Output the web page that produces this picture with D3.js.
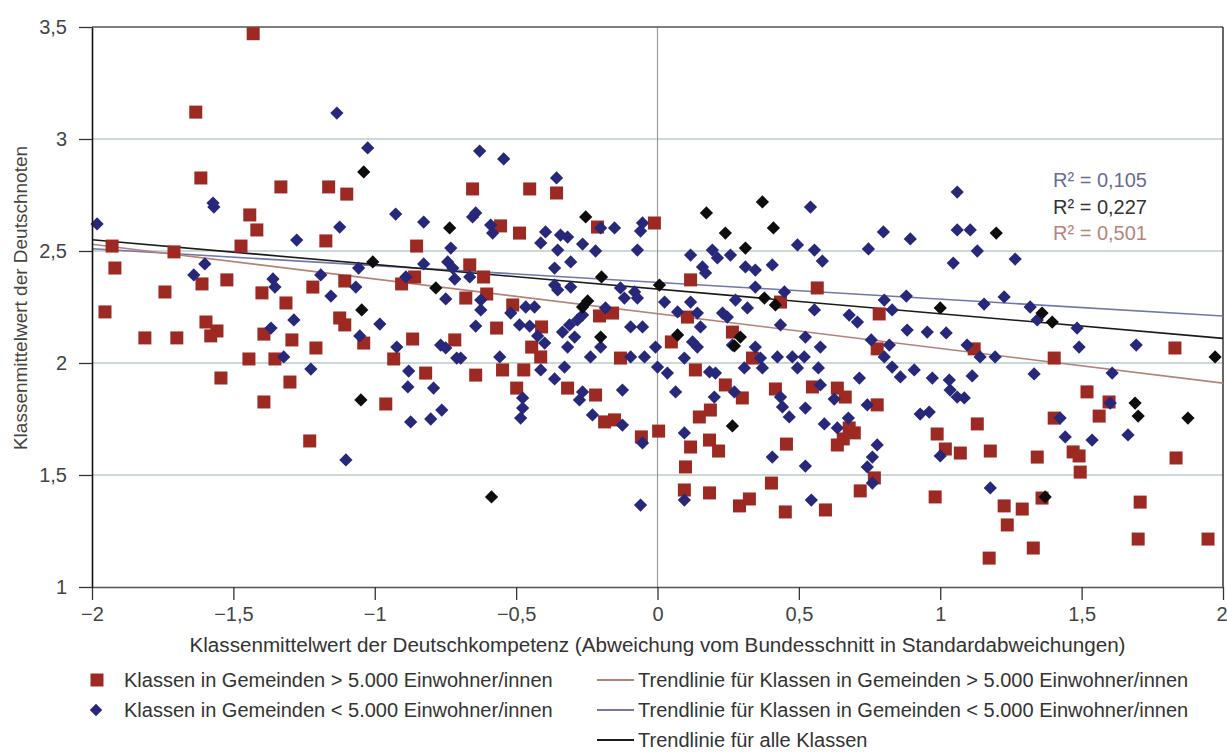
<!DOCTYPE html>
<html>
<head>
<meta charset="utf-8">
<script src="https://cdn.jsdelivr.net/npm/d3@7"></script>
<style>
  body { margin: 0; background: #fff; }
  text { font-family: Arial, "Liberation Sans", Helvetica, sans-serif; }
</style>
</head>
<body>
<div id="chart"></div>
<script>
// chart size
const width = 1227
const height = 755
const margin = { left: 92, right: 3, top: 27, bottom: 168 }

// classes in municipalities > 5.000 inhabitants (x: competence, y: grade)
const bigTowns = [
  [-1.43, 3.47], [-1.633, 3.12], [-1.615, 2.826], [-1.332, 2.786], [-1.163, 2.786], [-1.099, 2.754],
  [-1.442, 2.661], [-1.417, 2.594], [-1.473, 2.522], [-1.173, 2.545], [-0.852, 2.522], [-1.929, 2.522],
  [-1.919, 2.424], [-1.71, 2.496], [-1.954, 2.228], [-1.742, 2.317], [-1.611, 2.353], [-1.523, 2.371],
  [-1.399, 2.313], [-1.314, 2.268], [-1.219, 2.339], [-1.106, 2.366], [-0.859, 2.384], [-0.905, 2.353],
  [-1.813, 2.112], [-1.70, 2.112], [-1.597, 2.183], [-1.558, 2.143], [-1.58, 2.121], [-1.392, 2.129],
  [-1.293, 2.103], [-1.208, 2.067], [-1.124, 2.201], [-1.106, 2.17], [-1.039, 2.089], [-0.866, 2.107],
  [-0.933, 2.018], [-0.82, 1.955], [-1.445, 2.018], [-1.353, 2.018], [-1.544, 1.933], [-1.30, 1.915],
  [-1.392, 1.826], [-1.23, 1.652], [-0.961, 1.817], [-0.717, 2.103],
  [-0.654, 2.777], [-0.452, 2.777], [-0.357, 2.759], [-0.555, 2.612], [-0.488, 2.58], [-0.664, 2.438],
  [-0.615, 2.384], [-0.678, 2.29], [-0.604, 2.308], [-0.512, 2.259], [-0.212, 2.607], [-0.011, 2.625],
  [0.117, 2.371], [0.435, 2.272], [0.565, 2.335],
  [-0.569, 2.156], [-0.41, 2.161], [-0.643, 1.946], [-0.548, 1.969], [-0.473, 1.969], [-0.445, 2.071],
  [-0.413, 2.027], [-0.205, 2.21], [-0.159, 2.223], [-0.131, 2.022], [0.106, 2.205], [0.265, 2.138],
  [0.049, 2.094], [0.134, 1.969], [0.336, 2.022],
  [-0.498, 1.888], [-0.318, 1.888], [-0.219, 1.857], [-0.187, 1.737], [-0.152, 1.746], [-0.057, 1.67],
  [0.004, 1.696], [0.24, 1.902], [0.30, 1.844], [0.148, 1.759], [0.187, 1.79], [0.117, 1.625],
  [0.184, 1.656], [0.216, 1.607], [0.099, 1.536], [0.095, 1.433], [0.184, 1.42], [0.325, 1.393],
  [0.29, 1.362], [0.403, 1.464], [0.452, 1.335], [0.417, 1.884], [0.456, 1.638], [0.548, 1.893],
  [0.784, 2.219], [0.777, 2.063], [1.12, 2.063], [1.403, 2.022], [1.83, 2.067], [0.636, 1.888],
  [0.664, 1.848], [0.777, 1.813], [1.519, 1.871], [1.597, 1.826], [1.562, 1.763], [1.403, 1.754],
  [1.131, 1.728], [0.989, 1.683], [0.678, 1.71], [0.696, 1.688], [0.657, 1.661], [0.636, 1.634],
  [1.018, 1.616], [1.071, 1.598], [1.177, 1.607], [1.343, 1.58], [1.47, 1.603], [1.491, 1.585],
  [1.495, 1.513], [1.834, 1.576], [0.767, 1.487], [0.717, 1.429], [0.594, 1.344], [0.982, 1.402],
  [1.226, 1.362], [1.29, 1.348], [1.237, 1.277], [1.36, 1.397], [1.707, 1.379], [1.173, 1.129],
  [1.329, 1.174], [1.70, 1.214], [1.947, 1.214]
]

// classes in municipalities < 5.000 inhabitants
const smallTowns = [
  [-1.982, 2.621], [-1.134, 3.116], [-1.025, 2.96], [-1.572, 2.714], [-1.569, 2.696], [-1.124, 2.607],
  [-1.276, 2.549], [-0.926, 2.665], [-0.827, 2.629], [-0.731, 2.513], [-0.742, 2.451], [-0.724, 2.424],
  [-0.717, 2.375], [-1.601, 2.442], [-1.64, 2.393], [-1.36, 2.375], [-1.353, 2.339], [-1.191, 2.393],
  [-1.155, 2.299], [-1.067, 2.339], [-1.057, 2.424], [-0.89, 2.384], [-0.827, 2.442], [-0.749, 2.286],
  [-0.982, 2.174], [-1.286, 2.192], [-1.367, 2.156], [-1.053, 2.121], [-0.922, 2.071], [-0.767, 2.08],
  [-0.749, 2.067], [-1.322, 2.027], [-1.226, 1.973], [-0.88, 1.964], [-0.71, 2.022],
  [-1.102, 1.567], [-0.883, 1.893], [-0.792, 1.888], [-0.763, 1.79], [-0.873, 1.737], [-0.802, 1.75],
  [-0.629, 2.946], [-0.544, 2.911], [-0.357, 2.826], [-0.643, 2.67], [-0.654, 2.652], [-0.59, 2.616],
  [-0.583, 2.58], [-0.396, 2.585], [-0.413, 2.536], [-0.343, 2.571], [-0.318, 2.562], [-0.353, 2.504],
  [-0.265, 2.531], [-0.219, 2.50], [-0.201, 2.603], [-0.152, 2.603], [-0.053, 2.625], [-0.06, 2.589],
  [-0.071, 2.504], [-0.307, 2.451], [-0.364, 2.424], [-0.664, 2.384], [-0.364, 2.348], [-0.353, 2.326],
  [-0.307, 2.339], [-0.625, 2.281], [-0.625, 2.237], [-0.643, 2.165], [-0.519, 2.223], [-0.466, 2.25],
  [-0.435, 2.25], [-0.488, 2.17], [-0.452, 2.165], [-0.424, 2.121], [-0.399, 2.089], [-0.336, 2.138],
  [-0.311, 2.17], [-0.283, 2.192], [-0.293, 2.116], [-0.318, 2.071], [-0.265, 2.214], [-0.184, 2.246],
  [-0.131, 2.335], [-0.117, 2.29], [-0.081, 2.317], [-0.071, 2.29], [-0.095, 2.161], [-0.053, 2.161],
  [-0.201, 2.071], [-0.237, 2.027], [-0.007, 2.071], [-0.095, 2.027], [-0.046, 2.027], [-0.696, 2.022],
  [-0.558, 2.027], [-0.413, 1.969], [-0.329, 1.982], [0.025, 2.272], [0.071, 2.228], [0.117, 2.272],
  [0.141, 2.223], [0.152, 2.161], [0.117, 2.482], [0.159, 2.429], [0.17, 2.402], [0.194, 2.504],
  [0.212, 2.469], [0.258, 2.482], [0.311, 2.429], [0.346, 2.415], [0.406, 2.438], [0.346, 2.339],
  [0.495, 2.527], [0.555, 2.504], [0.276, 2.281], [0.318, 2.246], [0.449, 2.317], [0.435, 2.17],
  [0.523, 2.116], [0.23, 2.223], [0.247, 2.205], [0.124, 2.094], [0.141, 2.071], [0.265, 2.08],
  [0.346, 2.071], [0.095, 2.022], [0.364, 2.022], [0.424, 2.027], [0.477, 2.027], [0.519, 2.027],
  [0.307, 1.978], [0.371, 1.978], [0.495, 1.978], [0.184, 1.96], [0.205, 1.955], [0.0, 1.982],
  [0.035, 1.955], [0.541, 2.696],
  [-0.364, 1.929], [-0.276, 1.835], [-0.265, 1.871], [-0.477, 1.844], [-0.477, 1.799], [-0.484, 1.754],
  [-0.23, 1.768], [-0.124, 1.723], [-0.124, 1.879], [0.064, 1.871], [-0.053, 1.643], [-0.06, 1.366],
  [0.201, 1.848], [0.272, 1.871], [0.435, 1.848], [0.442, 1.804], [0.466, 1.759], [0.523, 1.799],
  [0.406, 1.58], [0.523, 1.54], [0.544, 1.388], [0.095, 1.688], [0.095, 1.388], [0.555, 2.237],
  [1.06, 2.763], [0.799, 2.585], [0.894, 2.554], [1.06, 2.594], [1.106, 2.594], [0.583, 2.455],
  [0.746, 2.509], [1.131, 2.50], [1.046, 2.446], [1.265, 2.464], [0.88, 2.299], [0.802, 2.281],
  [0.83, 2.237], [0.678, 2.214], [0.707, 2.183], [0.883, 2.147], [0.954, 2.138], [1.021, 2.134],
  [1.155, 2.263], [1.226, 2.295], [1.318, 2.25], [1.343, 2.192], [1.484, 2.156], [1.491, 2.071],
  [1.693, 2.08], [0.756, 2.103], [0.82, 2.08], [0.576, 2.071], [1.095, 2.08], [1.141, 2.027],
  [1.194, 2.027], [0.569, 1.978], [0.802, 2.027], [0.83, 1.982], [0.859, 1.938], [0.908, 1.969],
  [0.972, 1.933], [1.032, 1.924], [1.113, 1.942], [0.714, 1.933], [1.332, 1.951], [1.608, 1.955],
  [0.576, 1.902], [1.035, 1.879], [1.06, 1.848], [1.085, 1.844], [0.625, 1.839], [0.742, 1.813],
  [0.675, 1.754], [0.59, 1.728], [0.636, 1.71], [0.961, 1.781], [0.929, 1.772], [1.424, 1.754],
  [1.442, 1.67], [1.537, 1.656], [1.664, 1.679], [1.601, 1.821], [0.777, 1.634],
  [1.177, 1.442], [0.742, 1.536], [0.76, 1.58], [0.76, 1.464], [1.0, 1.585]
]

// black diamonds
const otherClasses = [
  [-1.007, 2.451], [-0.735, 2.603], [-0.784, 2.335], [-1.046, 2.237], [-1.039, 2.853], [-1.049, 1.835],
  [-0.254, 2.652], [-0.198, 2.384], [0.007, 2.348], [-0.247, 2.277], [-0.265, 2.25], [-0.201, 2.116],
  [0.071, 2.125], [0.173, 2.67], [0.371, 2.719], [0.24, 2.58], [0.41, 2.603], [0.311, 2.513],
  [0.378, 2.29], [0.417, 2.259], [0.293, 2.116], [0.272, 2.076], [-0.587, 1.402], [0.265, 1.719],
  [1.198, 2.58], [1.0, 2.246], [1.36, 2.223], [1.396, 2.183], [1.689, 1.821], [1.70, 1.763],
  [1.876, 1.754], [1.972, 2.027], [1.371, 1.402]
]

// trend lines: [value at x=-2, value at x=2]
const trendEnds = [[2.51, 2.21], [2.55, 2.11], [2.53, 1.91]]
const trendColors = ["#7276aa", "#1a1a1a", "#b5827a"]
const rSquared = ["R² = 0,105", "R² = 0,227", "R² = 0,501"]

const xTicks = [-2, -1.5, -1, -0.5, 0, 0.5, 1, 1.5, 2]
const yTicks = [1, 1.5, 2, 2.5, 3, 3.5]

const legendLeft = ["Klassen in Gemeinden > 5.000 Einwohner/innen", "Klassen in Gemeinden < 5.000 Einwohner/innen"]
const legendRight = ["Trendlinie für Klassen in Gemeinden > 5.000 Einwohner/innen",
  "Trendlinie für Klassen in Gemeinden < 5.000 Einwohner/innen", "Trendlinie für alle Klassen"]

const red = "#9c2a22"
const navy = "#27287a"
const fontSize = 20

const de = d3.formatLocale({ decimal: ",", thousands: ".", grouping: [3], currency: ["", " €"], minus: "\u2212" })
const fmt = de.format("~g")

const svg = d3.select("#chart")
    .append("svg")
    .attr("width", width)
    .attr("height", height)

const x = d3.scaleLinear().domain([-2, 2]).range([margin.left, width - margin.right - 1])
const y = d3.scaleLinear().domain([1, 3.5]).range([height - margin.bottom, margin.top])

// horizontal grid
svg.append("g")
    .selectAll("line")
    .data(yTicks.filter(d => d > 1 && d < 3.5))
    .join("line")
    .attr("x1", x(-2)).attr("x2", x(2))
    .attr("y1", d => y(d)).attr("y2", d => y(d))
    .attr("stroke", "#b9cccb")
    .attr("stroke-width", 1.5)

// zero line and frame
svg.append("line")
    .attr("x1", x(0)).attr("x2", x(0))
    .attr("y1", y(3.5)).attr("y2", y(1))
    .attr("stroke", "#9a9a9a").attr("stroke-width", 1.2)
svg.append("line")
    .attr("x1", x(-2)).attr("x2", x(2))
    .attr("y1", y(3.5)).attr("y2", y(3.5))
    .attr("stroke", "#555").attr("stroke-width", 1.5)
svg.append("line")
    .attr("x1", x(2)).attr("x2", x(2))
    .attr("y1", y(3.5)).attr("y2", y(1))
    .attr("stroke", "#333").attr("stroke-width", 1.5)

// trend lines
svg.append("g")
    .selectAll("line")
    .data(trendEnds)
    .join("line")
    .attr("x1", x(-2)).attr("x2", x(2))
    .attr("y1", d => y(d[0])).attr("y2", d => y(d[1]))
    .attr("stroke", (d, i) => trendColors[i])
    .attr("stroke-width", 1.6)

// points
const sq = 13
svg.append("g")
    .selectAll("rect")
    .data(bigTowns)
    .join("rect")
    .attr("x", d => x(d[0]) - sq / 2)
    .attr("y", d => y(d[1]) - sq / 2)
    .attr("width", sq).attr("height", sq)
    .attr("fill", red)

const diamond = d3.symbol().type(d3.symbolDiamond2).size(112)
svg.append("g")
    .selectAll("path")
    .data(smallTowns)
    .join("path")
    .attr("d", diamond)
    .attr("transform", d => `translate(${x(d[0])},${y(d[1])})`)
    .attr("fill", navy)

svg.append("g")
    .selectAll("path")
    .data(otherClasses)
    .join("path")
    .attr("d", diamond)
    .attr("transform", d => `translate(${x(d[0])},${y(d[1])})`)
    .attr("fill", "#0d0d0d")

// axes
const xAxis = svg.append("g")
    .attr("transform", `translate(0,${y(1)})`)
    .call(d3.axisBottom(x).tickValues(xTicks).tickFormat(fmt).tickSize(13).tickSizeOuter(0).tickPadding(7))
xAxis.select(".domain").attr("stroke", "#555").attr("stroke-width", 1.5)
xAxis.selectAll(".tick line").attr("stroke", "#333").attr("stroke-width", 1.3)
// keep the last label inside the page
xAxis.selectAll(".tick text").filter(d => d === 2).attr("text-anchor", "end").attr("dx", 4)

const yAxis = svg.append("g")
    .attr("transform", `translate(${x(-2)},0)`)
    .call(d3.axisLeft(y).tickValues(yTicks).tickFormat(fmt).tickSize(13).tickSizeOuter(0).tickPadding(12))
yAxis.select(".domain").attr("stroke", "#111").attr("stroke-width", 1.6)
yAxis.selectAll(".tick line").attr("stroke", "#333").attr("stroke-width", 1.3)

svg.selectAll(".tick text")
    .attr("font-size", fontSize)
    .attr("fill", "#444")
    .style("font-family", "Arial, 'Liberation Sans', sans-serif")

// axis titles
svg.append("text")
    .attr("x", x(0)).attr("y", 652)
    .attr("text-anchor", "middle")
    .attr("font-size", fontSize).attr("fill", "#333")
    .attr("textLength", 936).attr("lengthAdjust", "spacingAndGlyphs")
    .text("Klassenmittelwert der Deutschkompetenz (Abweichung vom Bundesschnitt in Standardabweichungen)")

svg.append("text")
    .attr("transform", "translate(27,298) rotate(-90)")
    .attr("text-anchor", "middle")
    .attr("font-size", 19).attr("fill", "#444")
    .text("Klassenmittelwert der Deutschnoten")

// R² labels
svg.append("g")
    .selectAll("text")
    .data(rSquared)
    .join("text")
    .attr("x", 1053)
    .attr("y", (d, i) => 187 + i * 26.5)
    .attr("font-size", fontSize)
    .attr("fill", (d, i) => ["#6a6c92", "#333", "#b5857d"][i])
    .text(d => d)

// legend
const legY = [680, 710, 740]
svg.append("rect")
    .attr("x", 90.5).attr("y", legY[0] - 6.5).attr("width", 13).attr("height", 13)
    .attr("fill", red)
svg.append("path")
    .attr("d", d3.symbol().type(d3.symbolDiamond2).size(100))
    .attr("transform", `translate(96,${legY[1]})`)
    .attr("fill", navy)
svg.append("g")
    .selectAll("text")
    .data(legendLeft)
    .join("text")
    .attr("x", 124)
    .attr("y", (d, i) => legY[i] + 7)
    .attr("font-size", fontSize).attr("fill", "#333")
    .text(d => d)

const legLineColors = [trendColors[2], trendColors[0], trendColors[1]]
svg.append("g")
    .selectAll("line")
    .data(legendRight)
    .join("line")
    .attr("x1", 597).attr("x2", 634)
    .attr("y1", (d, i) => legY[i]).attr("y2", (d, i) => legY[i])
    .attr("stroke", (d, i) => legLineColors[i])
    .attr("stroke-width", 1.8)
svg.append("g")
    .selectAll("text")
    .data(legendRight)
    .join("text")
    .attr("x", 638)
    .attr("y", (d, i) => legY[i] + 7)
    .attr("font-size", fontSize).attr("fill", "#333")
    .text(d => d)
</script>
</body>
</html>
